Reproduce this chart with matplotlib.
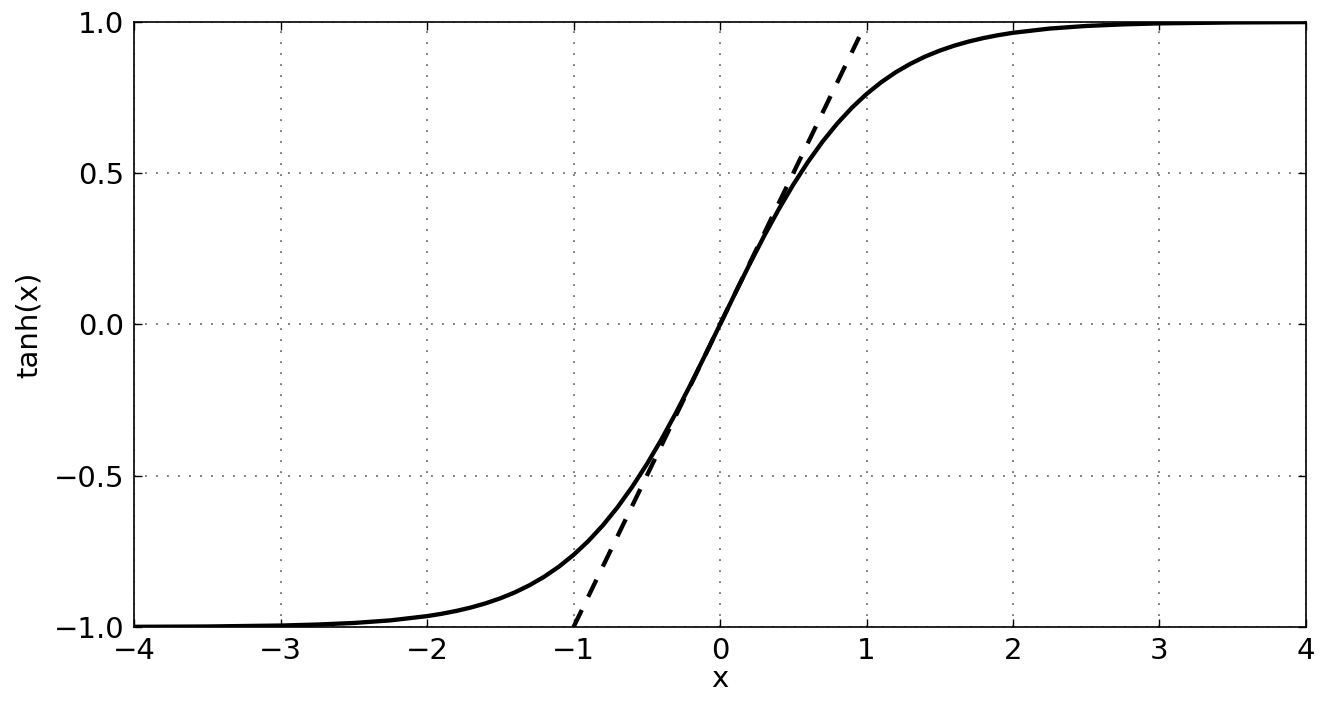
import matplotlib
matplotlib.use('Agg')
import matplotlib.pyplot as plt

# points
x_vals = [-4.0, -3.5, -3.0, -2.75, -2.5, -2.25, -2.0, -1.9, -1.8, -1.7, -1.6, -1.5,
          -1.4, -1.3, -1.2, -1.1, -1.0, -0.9, -0.8, -0.7, -0.6, -0.5, -0.4, -0.3,
          -0.2, -0.1, 0.0, 0.1, 0.2, 0.3, 0.4, 0.5, 0.6, 0.7, 0.8, 0.9, 1.0, 1.1,
          1.2, 1.3, 1.4, 1.5, 1.6, 1.7, 1.8, 1.9, 2.0, 2.25, 2.5, 2.75, 3.0, 3.5, 4.0]
y_vals = [-0.9993, -0.9982, -0.9951, -0.9918, -0.9866, -0.9780, -0.9640, -0.9562,
          -0.9468, -0.9354, -0.9217, -0.9051, -0.8854, -0.8617, -0.8337, -0.8005,
          -0.7616, -0.7163, -0.6640, -0.6044, -0.5370, -0.4621, -0.3800, -0.2913,
          -0.1974, -0.0997, 0.0, 0.0997, 0.1974, 0.2913, 0.3800, 0.4621, 0.5370,
          0.6044, 0.6640, 0.7163, 0.7616, 0.8005, 0.8337, 0.8617, 0.8854, 0.9051,
          0.9217, 0.9354, 0.9468, 0.9562, 0.9640, 0.9780, 0.9866, 0.9918, 0.9951,
          0.9982, 0.9993]

# tangent at the origin
tan_x = [-1.0, 0.95]
tan_y = [-1.0, 0.95]

xticks = [-4, -3, -2, -1, 0, 1, 2, 3, 4]
yticks = [-1.0, -0.5, 0.0, 0.5, 1.0]

plt.rcParams.update({'font.size': 21})
fig = plt.figure(figsize=(13.34, 7.02), dpi=100)
ax = fig.add_axes([0.1005, 0.1068, 0.8785, 0.862])

ax.plot(x_vals, y_vals, 'k-', linewidth=3.1)
ax.plot(tan_x, tan_y, 'k--', linewidth=3.1, dashes=(4.4, 3.4))

ax.set_xlim(-4, 4)
ax.set_ylim(-1, 1)
ax.set_xticks(xticks)
ax.set_yticks(yticks)
ax.set_yticklabels(['\u22121.0', '\u22120.5', '0.0', '0.5', '1.0'])
ax.tick_params(direction='in', length=6, width=1, top=True, right=True, pad=7)
ax.grid(True, color='0.35', linestyle=(0, (1.2, 6)), linewidth=1.1)
for s in ax.spines.values():
    s.set_linewidth(1.2)

ax.set_xlabel('x', labelpad=0)
ax.set_ylabel('tanh(x)', labelpad=8)

fig.savefig('out.png', dpi=100)
